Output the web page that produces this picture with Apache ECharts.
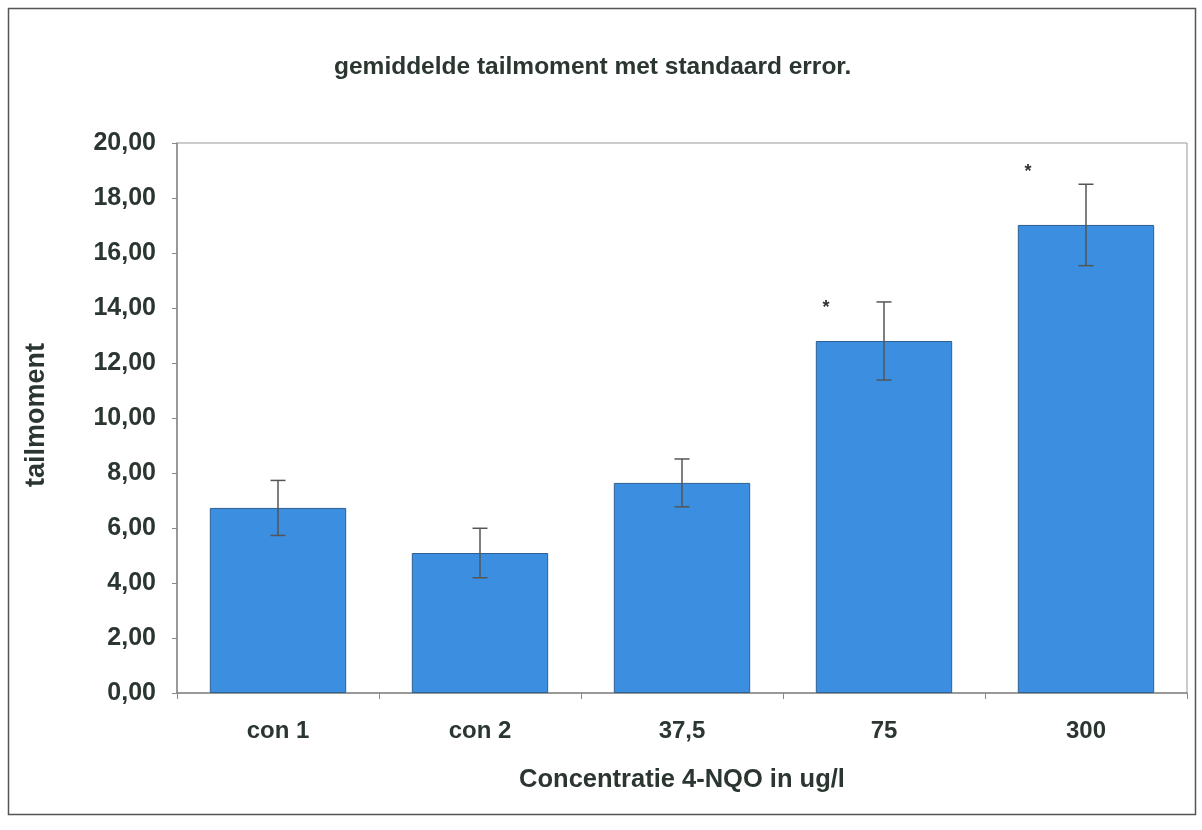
<!DOCTYPE html>
<html>
<head>
<meta charset="utf-8">
<script src="https://cdn.jsdelivr.net/npm/echarts@6/dist/echarts.min.js"></script>
<style>html,body{margin:0;padding:0;background:#fff;}#c{width:1202px;height:830px;}</style>
</head>
<body>
<div id="c"></div>
<script>
const categories = ['con 1', 'con 2', '37,5', '75', '300'];
const means = [6.73, 5.09, 7.64, 12.80, 17.02];
const stdErrors = [1.00, 0.90, 0.87, 1.42, 1.48];
const significantMarks = [null, null, null, 14.15, 19.1];
const titleText = 'gemiddelde tailmoment met standaard error.';
const yName = 'tailmoment';
const xName = 'Concentratie 4-NQO in ug/l';

const textColor = '#2b3630';
const chart = echarts.init(document.getElementById('c'));
const errData = means.map((m, i) => [i, m - stdErrors[i], m + stdErrors[i]]);
const starData = significantMarks.map((v, i) => v == null ? null : [i, v]).filter(Boolean);

chart.setOption({
  animation: false,
  backgroundColor: '#fff',
  title: {
    text: titleText, left: 329, top: 50,
    textStyle: { fontFamily: 'Liberation Sans', fontWeight: 'bold', fontSize: 24.5, color: textColor }
  },
  graphic: [{
    type: 'rect', shape: { x: 8.5, y: 8.5, width: 1187, height: 806 },
    style: { fill: 'none', stroke: '#555', lineWidth: 1.5 }
  }],
  grid: { left: 177, right: 15, top: 143, bottom: 137, show: true, borderColor: '#999', borderWidth: 1, backgroundColor: 'transparent' },
  xAxis: {
    type: 'category', data: categories,
    axisLine: { lineStyle: { color: '#888', width: 1.5 } },
    axisTick: { show: true, length: 6, lineStyle: { color: '#888' } },
    axisLabel: { margin: 26, fontFamily: 'Liberation Sans', fontWeight: 'bold', fontSize: 24, color: textColor },
    name: xName, nameLocation: 'middle', nameGap: 74,
    nameTextStyle: { fontFamily: 'Liberation Sans', fontWeight: 'bold', fontSize: 25.5, color: textColor }
  },
  yAxis: {
    type: 'value', min: 0, max: 20, interval: 2,
    axisLine: { show: true, lineStyle: { color: '#888', width: 1.5 } },
    axisTick: { show: true, length: 5, lineStyle: { color: '#888' } },
    splitLine: { show: false },
    axisLabel: {
      margin: 21, fontFamily: 'Liberation Sans', fontWeight: 'bold', fontSize: 25, color: textColor,
      formatter: v => v.toFixed(2).replace('.', ',')
    },
    name: yName, nameLocation: 'middle', nameGap: 127, nameRotate: 90, nameTextStyle: { fontFamily: 'Liberation Sans', fontWeight: 'bold', fontSize: 27, color: textColor, padding: [0, 0, 0, 6] }
  },
  series: [{
    type: 'bar', data: means, barWidth: '67.5%',
    itemStyle: { color: '#3b8ee0', borderColor: '#2f5f8f', borderWidth: 1 }
  }, {
    type: 'custom', data: errData, z: 5,
    renderItem: (params, api) => {
      const x = api.coord([api.value(0), 0])[0];
      const lo = api.coord([api.value(0), api.value(1)])[1];
      const hi = api.coord([api.value(0), api.value(2)])[1];
      const c = 7.5;
      const st = { stroke: '#555', lineWidth: 1.5 };
      return { type: 'group', children: [
        { type: 'line', shape: { x1: x, y1: lo, x2: x, y2: hi }, style: st },
        { type: 'line', shape: { x1: x - c, y1: hi, x2: x + c, y2: hi }, style: st },
        { type: 'line', shape: { x1: x - c, y1: lo, x2: x + c, y2: lo }, style: st }
      ]};
    }
  }, {
    type: 'custom', data: starData, z: 6,
    renderItem: (params, api) => {
      const p = api.coord([api.value(0), api.value(1)]);
      return { type: 'text', x: p[0] - 58, y: p[1] + 4,
        style: { text: '*', fontSize: 18, fontWeight: 'bold', fontFamily: 'Liberation Sans', fill: '#333', align: 'center', verticalAlign: 'middle' } };
    }
  }]
});
</script>
</body>
</html>
